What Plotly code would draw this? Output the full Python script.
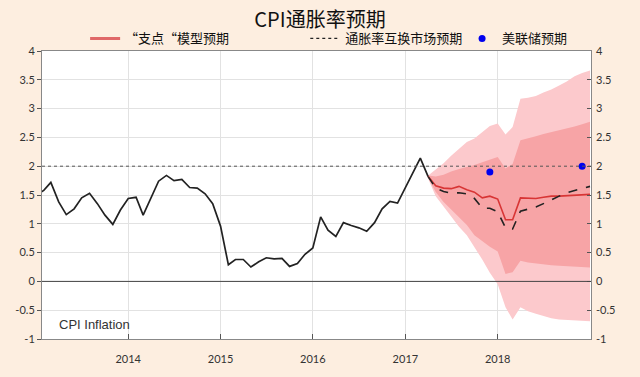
import plotly.graph_objects as go
import pandas as pd

# ---------------- data ----------------
actual_months = pd.date_range("2013-01-01", "2017-04-01", freq="MS")
cpi_actual = [1.50, 1.58, 1.72, 1.38, 1.16, 1.26, 1.45, 1.53, 1.35, 1.15, 0.99, 1.24,   # 2013
              1.44, 1.46, 1.15, 1.44, 1.74, 1.84, 1.75, 1.77, 1.63, 1.62, 1.52, 1.35,   # 2014
              0.96, 0.29, 0.38, 0.38, 0.25, 0.34, 0.41, 0.39, 0.40, 0.26, 0.31, 0.47,   # 2015
              0.58, 1.12, 0.89, 0.78, 1.02, 0.97, 0.93, 0.87, 1.02, 1.26, 1.39, 1.36,   # 2016
              1.63, 1.90, 2.14, 1.82]                                                   # 2017

fc_months = pd.date_range("2017-04-01", "2019-01-01", freq="MS")
model_fc = [1.82, 1.66, 1.62, 1.61, 1.65, 1.59, 1.55, 1.45, 1.48, 1.43, 1.07, 1.07,
            1.45, 1.45, 1.44, 1.46, 1.48, 1.48, 1.49, 1.50, 1.50, 1.51]
market_fc = [1.82, 1.62, 1.56, 1.53, 1.54, 1.52, 1.44, 1.27, 1.27, 1.21, 0.93, 0.91,
             1.22, 1.26, 1.29, 1.35, 1.42, 1.48, 1.54, 1.58, 1.62, 1.65]
outer_upper = [1.84, 1.95, 2.05, 2.18, 2.30, 2.42, 2.48, 2.60, 2.70, 2.74, 2.55, 2.68,
               3.17, 3.19, 3.22, 3.28, 3.33, 3.40, 3.47, 3.56, 3.62, 3.66]
inner_upper = [1.84, 1.82, 1.85, 1.91, 1.95, 1.98, 2.02, 2.07, 2.12, 2.16, 1.96, 2.04,
               2.45, 2.48, 2.52, 2.56, 2.59, 2.62, 2.66, 2.69, 2.73, 2.77]
inner_lower = [1.80, 1.55, 1.38, 1.25, 1.10, 0.98, 0.80, 0.70, 0.60, 0.52, 0.13, 0.16,
               0.36, 0.33, 0.31, 0.30, 0.28, 0.27, 0.26, 0.25, 0.24, 0.24]
outer_lower = [1.78, 1.48, 1.30, 1.12, 0.95, 0.80, 0.60, 0.38, 0.15, -0.05, -0.45, -0.66,
               -0.45, -0.52, -0.56, -0.60, -0.64, -0.66, -0.67, -0.68, -0.69, -0.69]

fed_dates = ["2017-12-01", "2018-12-01"]
fed_values = [1.90, 2.00]

year_ticks = ["2014-01-01", "2015-01-01", "2016-01-01", "2017-01-01", "2018-01-01"]
year_labels = ["2014", "2015", "2016", "2017", "2018"]
y_ticks = [-1, -0.5, 0, 0.5, 1, 1.5, 2, 2.5, 3, 3.5, 4]
y_labels = ["-1", "-0.5", "0", "0.5", "1", "1.5", "2", "2.5", "3", "3.5", "4"]

# ---------------- styles ----------------
PAPER = "#fdeee0"
OUTER = "#fcc9cc"
INNER = "#f7a4a6"
RED = "#d83535"
CJK = "Noto Sans CJK SC"
TICKFONT = dict(family="Lato", size=11, color="#333")

fig = go.Figure()

# fan bands
fig.add_trace(go.Scatter(x=fc_months, y=outer_lower, mode="lines", line=dict(width=0),
                         showlegend=False, hoverinfo="skip"))
fig.add_trace(go.Scatter(x=fc_months, y=outer_upper, mode="lines", line=dict(width=0),
                         fill="tonexty", fillcolor=OUTER, showlegend=False, hoverinfo="skip"))
fig.add_trace(go.Scatter(x=fc_months, y=inner_lower, mode="lines", line=dict(width=0),
                         showlegend=False, hoverinfo="skip"))
fig.add_trace(go.Scatter(x=fc_months, y=inner_upper, mode="lines", line=dict(width=0),
                         fill="tonexty", fillcolor=INNER, showlegend=False, hoverinfo="skip"))

# actual CPI
fig.add_trace(go.Scatter(x=actual_months, y=cpi_actual, mode="lines",
                         line=dict(color="#222", width=1.7), showlegend=False))
# model forecast
fig.add_trace(go.Scatter(x=fc_months, y=model_fc, mode="lines",
                         line=dict(color=RED, width=1.6), showlegend=False))
# market forecast
fig.add_trace(go.Scatter(x=fc_months, y=market_fc, mode="lines",
                         line=dict(color="#222", width=1.6, dash="dash"), showlegend=False))
# Fed
fig.add_trace(go.Scatter(x=fed_dates, y=fed_values, mode="markers",
                         marker=dict(color="#0000ee", size=7), showlegend=False))

# legend entries
fig.add_trace(go.Scatter(x=[None], y=[None], mode="lines", name="“支点“模型预期",
                         line=dict(color="#e06868", width=3), legend="legend"))
fig.add_trace(go.Scatter(x=[None], y=[None], mode="lines", name="通胀率互换市场预期",
                         line=dict(color="#222", width=1.2, dash="dot"), legend="legend2"))
fig.add_trace(go.Scatter(x=[None], y=[None], mode="markers", name="美联储预期",
                         marker=dict(color="#0000ee", size=7), legend="legend3"))

# reference lines at 0 and 2
fig.add_hline(y=0, line=dict(color="#444", width=1))
fig.add_hline(y=2, line=dict(color="#555", width=1, dash="dot"))

# secondary axis trace to show right-side ticks
fig.add_trace(go.Scatter(x=[None], y=[None], yaxis="y2", showlegend=False))

leg_common = dict(orientation="h", xref="container", yref="container",
                  yanchor="middle", bgcolor="rgba(0,0,0,0)", borderwidth=0,
                  font=dict(family=CJK, size=13, color="#111"))

fig.update_layout(
    width=640, height=377,
    paper_bgcolor=PAPER, plot_bgcolor="white",
    margin=dict(l=42, r=49, t=51, b=38, autoexpand=False),
    title=dict(text="CPI通胀率预期", x=0.5, xanchor="center", y=0.947, yanchor="middle",
               font=dict(family=CJK, size=20, color="#111")),
    legend=dict(x=0.133, y=0.898, **leg_common),
    legend2=dict(x=0.477, y=0.898, **leg_common),
    legend3=dict(x=0.722, y=0.898, **leg_common),
    xaxis=dict(type="date", range=["2013-01-25", "2019-01-05"],
               tickvals=year_ticks, ticktext=year_labels,
               showgrid=True, gridcolor="#e2e2e2", gridwidth=1,
               ticks="inside", ticklen=5, tickcolor="#555", ticklabelstandoff=10,
               showline=True, linecolor="#888", linewidth=1, mirror=True,
               tickfont=TICKFONT, zeroline=False),
    yaxis=dict(range=[-1, 4], tickvals=y_ticks, ticktext=y_labels,
               showgrid=True, gridcolor="#e2e2e2", gridwidth=1,
               ticks="outside", ticklen=4, tickcolor="#555",
               showline=True, linecolor="#888", linewidth=1, mirror=True,
               tickfont=TICKFONT, zeroline=False),
    yaxis2=dict(range=[-1, 4], tickvals=y_ticks, ticktext=y_labels, overlaying="y",
                side="right", showgrid=False, ticks="inside", ticklen=4, tickcolor="#555",
                ticklabelstandoff=4,
                tickfont=TICKFONT, zeroline=False, showline=False),
    annotations=[dict(text="CPI Inflation", xref="paper", yref="paper", x=0.028, y=0.05,
                      xanchor="left", yanchor="middle", showarrow=False,
                      font=dict(family="Liberation Sans", size=13, color="#333"))],
)

fig.write_html("out.html", config={"displayModeBar": False},
               post_script="document.body.style.margin='0';")
